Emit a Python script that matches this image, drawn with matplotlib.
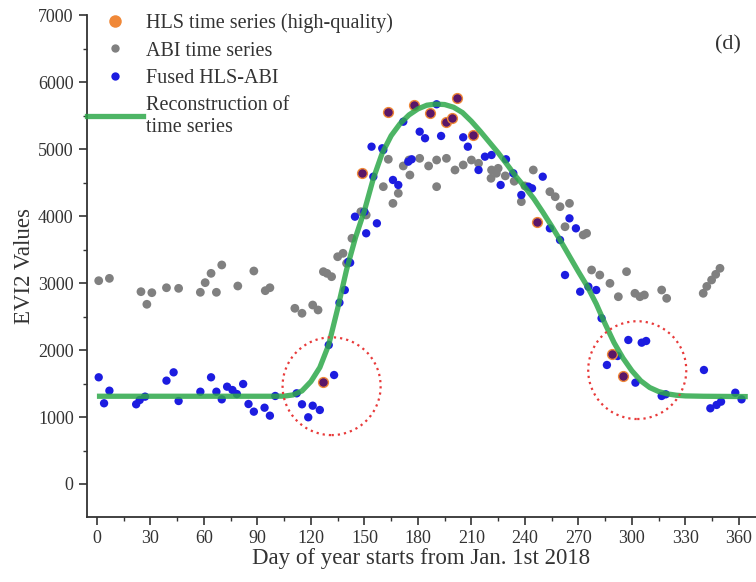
import numpy as np
import matplotlib
matplotlib.use("Agg")
import matplotlib.pyplot as plt
from matplotlib.patches import Ellipse
from matplotlib.lines import Line2D
from matplotlib.ticker import MultipleLocator

plt.rcParams['font.family'] = ['Liberation Serif', 'DejaVu Serif']

# ---- ABI time series (day of year, EVI2) ----
abi_day = [1, 7, 24.7, 28, 30.8, 39, 45.8, 58, 60.7, 64, 67, 70, 79, 88, 94.4, 97,
           111, 115, 121, 124, 127, 129, 131.6, 135, 138, 140, 143, 148, 151,
           160.6, 163.4, 166, 169, 171.8, 175, 175.5, 181, 186, 190.5, 190.5, 196,
           200.8, 205.4, 210, 214, 221.3, 221, 224, 225, 229, 234, 238, 240, 244.7,
           254, 257, 259.7, 262.5, 265, 272.7, 274.6, 277.4, 282, 287.7, 292.4, 297,
           301.7, 304.5, 307, 316.7, 319.5, 340, 342, 344.7, 347, 349.4]
abi_val = [3035, 3070, 2871, 2683, 2856, 2930, 2921, 2862, 3006, 3145, 2862, 3270, 2956, 3180, 2886, 2930,
           2623, 2549, 2672, 2598, 3170, 3145, 3095, 3393, 3444, 3295, 3668, 4065, 4016,
           4439, 4848, 4190, 4340, 4748, 4837, 4613, 4862, 4748, 4837, 4439, 4862,
           4688, 4763, 4837, 4788, 4688, 4564, 4639, 4713, 4600, 4520, 4215, 4450, 4688,
           4364, 4289, 4140, 3841, 4190, 3718, 3743, 3195, 3120, 2996, 2796, 3170,
           2847, 2796, 2822, 2896, 2772, 2847, 2950, 3046, 3130, 3220]

# ---- Fused HLS-ABI series ----
fused_day = [1, 4, 7, 22, 24, 27, 39, 43, 45.8, 58, 64, 67, 70, 73, 76, 78.5, 82, 85, 88, 94, 97, 100,
             112, 115, 118.5, 121, 125, 130, 133, 136, 139, 141, 142, 144.7, 150, 151, 155, 154, 157,
             160, 160.6, 166, 169, 171.8, 174.6, 176.5, 181, 184, 190.5, 193, 205.4, 208, 214,
             217.6, 221.3, 226.4, 229.4, 233.5, 238, 242, 244, 250, 254, 259.7, 262.5, 265, 268.6,
             271, 275.6, 280, 283, 286, 292, 298, 302, 305.5, 308, 316.7, 319, 340.4, 344, 347.5,
             350, 358, 361.5]
fused_val = [1593, 1205, 1393, 1190, 1254, 1304, 1543, 1667, 1239, 1378, 1593, 1378, 1264, 1453, 1403, 1343, 1493, 1194, 1080, 1139, 1020, 1314,
             1354, 1190, 996, 1169, 1105, 2075, 1627, 2707, 2896, 3319, 3304, 3991, 4065, 3743, 4588, 5036, 3892,
             5012, 4987, 4539, 4464, 5409, 4812, 4848, 5260, 5162, 5669, 5196, 5176, 5036, 4688,
             4887, 4912, 4464, 4848, 4639, 4315, 4439, 4414, 4588, 3817, 3643, 3120, 3966, 3817,
             2871, 2946, 2896, 2474, 1777, 1911, 2150, 1513, 2110, 2135, 1314, 1339, 1702, 1130, 1180,
             1229, 1363, 1264]

# ---- HLS high-quality observations ----
hls_day = [127, 148.5, 163, 177.8, 186.8, 196, 199, 202, 211, 247, 288.6, 295]
hls_val = [1527, 4648, 5558, 5659, 5534, 5409, 5460, 5768, 5211, 3916, 1941, 1612]

# ---- reconstructed curve ----
curve_day = [0, 100, 105, 110, 115, 120, 125, 130, 135, 140, 145, 150, 155, 160, 165, 170, 175,
             180, 185, 190, 195, 200, 205, 210, 215, 220, 225, 230, 235, 240, 245, 250, 255, 260,
             265, 270, 275, 280, 285, 290, 295, 300, 305, 310, 315, 320, 325, 330, 340, 350, 365]
curve_val = [1310, 1310, 1312, 1330, 1390, 1530, 1740, 2080, 2620, 3200, 3680, 4080, 4560, 4940, 5200, 5380, 5510,
             5600, 5655, 5672, 5665, 5625, 5545, 5415, 5265, 5105, 4945, 4770, 4590, 4430, 4260, 4060, 3850, 3630,
             3400, 3170, 2950, 2690, 2390, 2110, 1880, 1690, 1540, 1440, 1380, 1345, 1325, 1315, 1310, 1308, 1305]

fig = plt.figure(figsize=(7.56, 5.82), dpi=100)
ax = fig.add_axes([0.115, 0.112, 0.885, 0.862])

ax.scatter(abi_day, abi_val, s=40, color='#808080', edgecolors='none', zorder=2)
ax.scatter(fused_day, fused_val, s=36, color='#1c1ce0', edgecolors='none', zorder=3)
ax.scatter(hls_day, hls_val, s=50, facecolor='#5a1668', edgecolors='#f08838', linewidths=1.0, zorder=4)
ax.plot(curve_day, curve_val, color='#2ea84a', lw=3.8, alpha=0.85, zorder=5,
        solid_capstyle='butt', solid_joinstyle='round')

# dotted circles around green-up / senescence
for cx, cy in [(131.6, 1460), (303, 1700)]:
    ax.add_patch(Ellipse((cx, cy), 55, 1460, fill=False, edgecolor='#e83a3a',
                         lw=1.6, linestyle=(0, (1, 1.8)), zorder=6))

ax.set_xlim(-5.6, 369.6)
ax.set_ylim(-490, 7000)
ax.xaxis.set_major_locator(MultipleLocator(30))
ax.xaxis.set_minor_locator(MultipleLocator(15))
ax.yaxis.set_major_locator(MultipleLocator(1000))
ax.yaxis.set_minor_locator(MultipleLocator(500))
ax.tick_params(which='major', direction='out', length=6, width=1.2, labelsize=13, colors='#333333')
ax.tick_params(which='minor', direction='out', length=3, width=1.0, colors='#333333')
for s in ['top', 'right']:
    ax.spines[s].set_visible(False)
for s in ['left', 'bottom']:
    ax.spines[s].set_linewidth(1.3)
    ax.spines[s].set_color('#333333')

ax.set_xlabel('Day of year starts from Jan. 1st 2018', fontsize=16.5, color='#333333', labelpad=1)
ax.set_ylabel('EVI2 Values', fontsize=16.5, color='#333333', labelpad=2)
ax.text(0.978, 0.94, '(d)', transform=ax.transAxes, fontsize=16, color='#333333',
        ha='right', va='center')

handles = [
    Line2D([], [], ls='none', marker='o', ms=9, color='#f08838', mec='none'),
    Line2D([], [], ls='none', marker='o', ms=6, color='#808080', mec='none'),
    Line2D([], [], ls='none', marker='o', ms=6, color='#1c1ce0', mec='none'),
    Line2D([], [], color='#2ea84a', lw=3.8, alpha=0.85),
]
labels = ['HLS time series (high-quality)', 'ABI time series', 'Fused HLS-ABI',
          'Reconstruction of\ntime series']
ax.legend(handles, labels, loc='upper left', bbox_to_anchor=(0.0, 1.003), frameon=False,
          fontsize=14.5, handlelength=2.8, handletextpad=0.15, borderpad=0,
          labelspacing=0.4, borderaxespad=0, labelcolor='#333333')

fig.savefig('out.png', dpi=100)
